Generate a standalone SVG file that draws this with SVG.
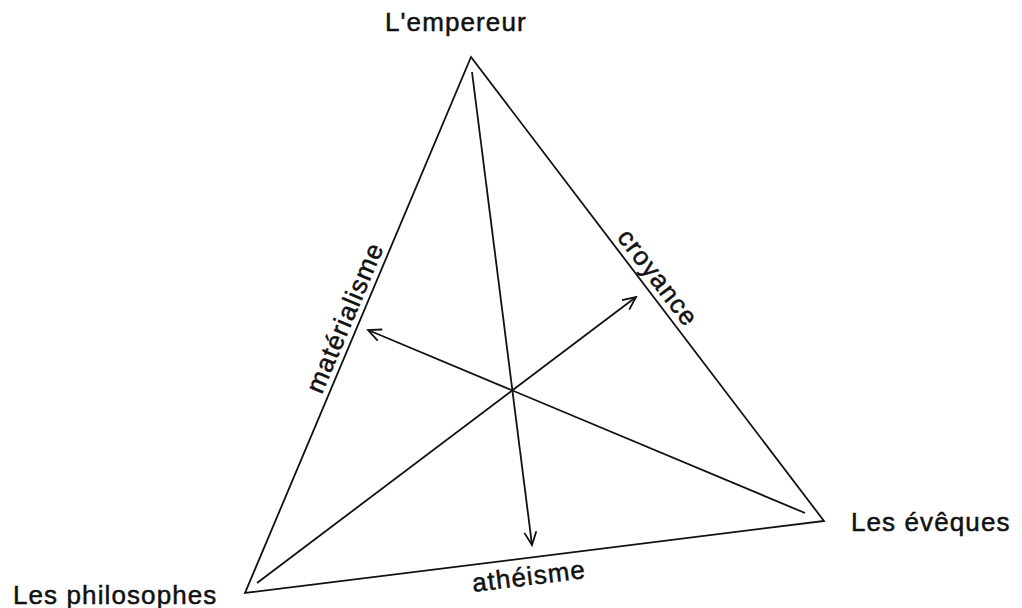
<svg xmlns="http://www.w3.org/2000/svg" width="1022" height="608" viewBox="0 0 1022 608">
<style>
.lbl{font-family:"Liberation Sans",Arial,Helvetica,sans-serif;font-size:26px;letter-spacing:1.1px;fill:#111;stroke:#111;stroke-width:0.5}
.edge{fill:none;stroke:#111;stroke-width:1.8;stroke-linejoin:miter}
.arr{fill:none;stroke:#111;stroke-width:1.8;marker-end:url(#head)}
</style>
<defs>
<marker id="head" markerUnits="userSpaceOnUse" markerWidth="30" markerHeight="30" refX="0" refY="0" viewBox="-15 -15 30 30" orient="auto" overflow="visible">
<path d="M-13,-6 L0,0 L-13,6" fill="none" stroke="#111" stroke-width="1.8"/>
</marker>
</defs>
<rect width="1022" height="608" fill="#fff"/>
<g id="connectors">
<path class="edge" d="M471,57 L824,521 L245,593 Z"/>
<path class="arr" d="M472,72 L532,545"/>
<path class="arr" d="M257,583 L636,297"/>
<path class="arr" d="M805,513 L368,330"/>
</g>
<g id="node-empereur"><text class="lbl" x="385" y="31">L'empereur</text></g>
<g id="node-philosophes"><text class="lbl" x="13" y="604">Les philosophes</text></g>
<g id="node-eveques"><text class="lbl" x="851" y="531">Les évêques</text></g>
<g id="edge-labels">
<text class="lbl" text-anchor="middle" transform="translate(353,321) rotate(-67.1)">matérialisme</text>
<text class="lbl" text-anchor="middle" transform="translate(651,283) rotate(52.7)">croyance</text>
<text class="lbl" text-anchor="middle" transform="translate(530,585) rotate(-7.1)">athéisme</text>
</g>
</svg>
